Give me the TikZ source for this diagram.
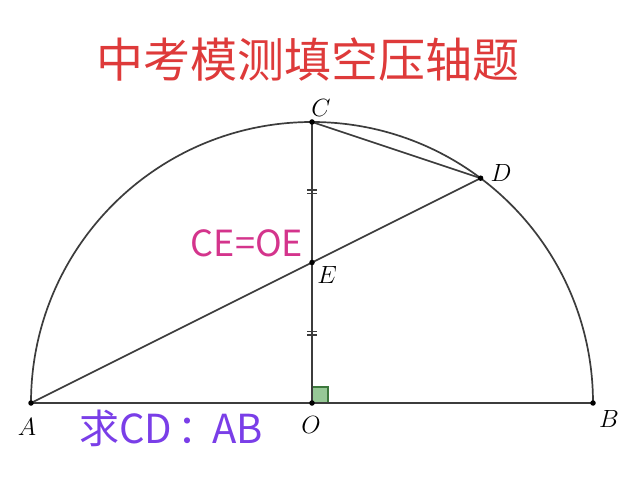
\documentclass[tikz,border=0pt]{standalone}
\usepackage{fontspec}
\usetikzlibrary{calc}
\newfontfamily\cjk{Noto Sans CJK SC}
\definecolor{titlered}{RGB}{222,58,58}
\definecolor{magentatext}{RGB}{212,52,140}
\definecolor{purpletext}{RGB}{122,62,232}
\definecolor{geoline}{RGB}{60,60,60}
\definecolor{rafill}{RGB}{150,200,150}
\definecolor{radraw}{RGB}{60,120,60}
\begin{document}
\begin{tikzpicture}[x=1pt,y=1pt,
  geo/.style={draw=geoline,line width=1.7pt},
  tick/.style={draw=geoline,line width=1.4pt},
  dot/.style={circle,fill=black,inner sep=0pt,minimum size=5.5pt},
  ptlabel/.style={font=\fontsize{26}{26}\selectfont,inner sep=0pt}]
\useasboundingbox (0,0) rectangle (640,480);
\fill[white] (0,0) rectangle (640,480);
\coordinate (O) at (312,77);
\coordinate (A) at (31,77);
\coordinate (B) at (593,77);
\coordinate (C) at (312,358);
\coordinate (D) at (480.6,301.8);
\coordinate (E) at (312,217.5);
% right angle
\filldraw[fill=rafill,draw=radraw,line width=1.2pt] (O) rectangle ++(16,16);
% semicircle and lines
\draw[geo] (A) arc[start angle=180,end angle=0,radius=281pt];
\draw[geo] (A) -- (B);
\draw[geo] (O) -- (C);
\draw[geo] (C) -- (D);
\draw[geo] (A) -- (D);
% ticks
\coordinate (t1) at (312,288);
\coordinate (t2) at (312,147);
\foreach \t in {t1,t2}{
  \draw[tick] ($(\t)+(-5,1.8)$) -- ($(\t)+(5,1.8)$);
  \draw[tick] ($(\t)+(-5,-1.8)$) -- ($(\t)+(5,-1.8)$);
}
% dots
\foreach \p in {A,O,B,C,D,E} \node[dot] (d\p) at (\p) {};
% labels
\node[ptlabel] (lC) at (321,372) {$C$};
\node[ptlabel] (lD) at (501,307) {$D$};
\node[ptlabel] (lE) at (327,205) {$E$};
\node[ptlabel] (lA) at (27,53) {$A$};
\node[ptlabel] (lO) at (311,55) {$O$};
\node[ptlabel] (lB) at (609,61) {$B$};
% texts
\node[font=\cjk\fontsize{47}{47}\selectfont,text=titlered,inner sep=0pt] (title) at (308,420) {中考模测填空压轴题};
\node[font=\cjk\fontsize{36}{36}\selectfont,text=magentatext,inner sep=0pt] (ce) at (247,237) {CE=OE};
\node[font=\cjk\fontsize{40}{40}\selectfont,text=purpletext,inner sep=0pt] (q) at (171,52) {求CD\kern5pt：\kern-5pt AB};
\end{tikzpicture}
\end{document}
